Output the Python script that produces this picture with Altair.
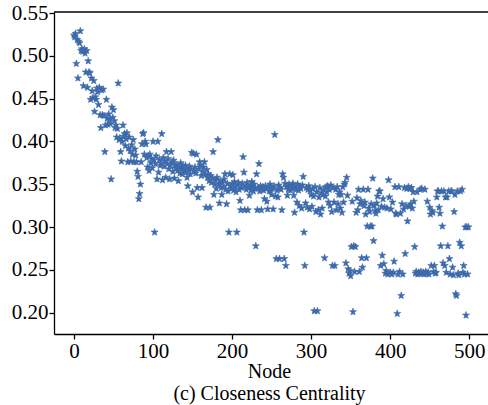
import altair as alt
import pandas as pd

# Closeness centrality per node (nodes 0..499)
vals_000 = [0.524, 0.522, 0.526, 0.491, 0.519, 0.474, 0.517, 0.515, 0.529, 0.506,
            0.508, 0.505, 0.465, 0.508, 0.503, 0.481, 0.506, 0.463, 0.494, 0.481,
            0.480, 0.449, 0.474, 0.459, 0.451, 0.471, 0.435, 0.452, 0.449, 0.462,
            0.458, 0.443, 0.463, 0.431, 0.416, 0.460, 0.431, 0.461, 0.430, 0.388,
            0.419, 0.449, 0.427, 0.420, 0.432, 0.426, 0.421, 0.356, 0.440, 0.428,
            0.437, 0.424, 0.416, 0.419, 0.405, 0.415, 0.468, 0.402, 0.404, 0.388,
            0.377, 0.400, 0.419, 0.406, 0.409, 0.395, 0.403, 0.410, 0.376, 0.392,
            0.405, 0.389, 0.377, 0.396, 0.385, 0.402, 0.376, 0.391, 0.384, 0.376,
            0.365, 0.359, 0.333, 0.339, 0.350, 0.376, 0.397, 0.409, 0.410, 0.385,
            0.400, 0.397, 0.381, 0.370, 0.383, 0.366, 0.385, 0.375, 0.380, 0.369]
vals_100 = [0.400, 0.378, 0.294, 0.374, 0.383, 0.356, 0.400, 0.364, 0.379, 0.372,
            0.375, 0.409, 0.355, 0.381, 0.371, 0.377, 0.358, 0.388, 0.374, 0.380,
            0.368, 0.356, 0.372, 0.388, 0.376, 0.365, 0.378, 0.357, 0.372, 0.369,
            0.373, 0.366, 0.354, 0.370, 0.363, 0.375, 0.368, 0.362, 0.371, 0.366,
            0.369, 0.372, 0.364, 0.358, 0.348, 0.367, 0.371, 0.362, 0.368, 0.387,
            0.341, 0.386, 0.365, 0.370, 0.363, 0.385, 0.346, 0.335, 0.368, 0.376,
            0.372, 0.360, 0.346, 0.365, 0.370, 0.376, 0.361, 0.323, 0.367, 0.358,
            0.362, 0.354, 0.323, 0.360, 0.352, 0.357, 0.388, 0.338, 0.350, 0.355,
            0.345, 0.358, 0.402, 0.350, 0.328, 0.354, 0.346, 0.338, 0.352, 0.347,
            0.356, 0.362, 0.344, 0.327, 0.351, 0.342, 0.294, 0.362, 0.348, 0.345]
vals_200 = [0.350, 0.361, 0.343, 0.353, 0.347, 0.341, 0.294, 0.349, 0.352, 0.344,
            0.331, 0.320, 0.346, 0.351, 0.382, 0.364, 0.320, 0.348, 0.344, 0.352,
            0.320, 0.346, 0.337, 0.349, 0.343, 0.353, 0.347, 0.342, 0.350, 0.345,
            0.278, 0.362, 0.320, 0.346, 0.374, 0.342, 0.348, 0.320, 0.344, 0.347,
            0.343, 0.333, 0.348, 0.345, 0.330, 0.321, 0.347, 0.342, 0.350, 0.344,
            0.338, 0.345, 0.321, 0.348, 0.408, 0.336, 0.263, 0.343, 0.335, 0.349,
            0.263, 0.346, 0.344, 0.320, 0.362, 0.358, 0.263, 0.351, 0.255, 0.347,
            0.337, 0.344, 0.350, 0.346, 0.343, 0.348, 0.345, 0.351, 0.337, 0.317,
            0.347, 0.344, 0.329, 0.350, 0.343, 0.325, 0.347, 0.345, 0.322, 0.349,
            0.359, 0.294, 0.255, 0.328, 0.346, 0.323, 0.344, 0.348, 0.321, 0.343]
vals_300 = [0.338, 0.324, 0.345, 0.336, 0.202, 0.347, 0.318, 0.341, 0.202, 0.320,
            0.335, 0.346, 0.315, 0.340, 0.322, 0.338, 0.344, 0.264, 0.336, 0.347,
            0.341, 0.348, 0.329, 0.344, 0.325, 0.349, 0.318, 0.255, 0.346, 0.329,
            0.255, 0.344, 0.320, 0.347, 0.327, 0.338, 0.341, 0.322, 0.338, 0.317,
            0.347, 0.329, 0.350, 0.352, 0.258, 0.358, 0.337, 0.251, 0.246, 0.249,
            0.243, 0.277, 0.330, 0.201, 0.278, 0.248, 0.277, 0.317, 0.334, 0.320,
            0.344, 0.248, 0.327, 0.331, 0.264, 0.253, 0.344, 0.325, 0.329, 0.315,
            0.264, 0.301, 0.344, 0.322, 0.318, 0.301, 0.327, 0.301, 0.357, 0.284,
            0.325, 0.319, 0.316, 0.328, 0.336, 0.320, 0.342, 0.342, 0.255, 0.324,
            0.267, 0.333, 0.257, 0.323, 0.246, 0.249, 0.322, 0.245, 0.355, 0.335]
vals_400 = [0.247, 0.321, 0.245, 0.329, 0.247, 0.260, 0.347, 0.316, 0.315, 0.199,
            0.245, 0.347, 0.248, 0.316, 0.220, 0.327, 0.245, 0.321, 0.346, 0.269,
            0.325, 0.345, 0.307, 0.347, 0.324, 0.345, 0.327, 0.346, 0.322, 0.341,
            0.330, 0.277, 0.246, 0.248, 0.341, 0.245, 0.247, 0.246, 0.344, 0.248,
            0.345, 0.246, 0.247, 0.245, 0.344, 0.248, 0.246, 0.330, 0.247, 0.245,
            0.323, 0.315, 0.255, 0.319, 0.317, 0.248, 0.255, 0.246, 0.247, 0.335,
            0.342, 0.342, 0.323, 0.316, 0.278, 0.342, 0.301, 0.258, 0.342, 0.255,
            0.335, 0.247, 0.335, 0.278, 0.342, 0.263, 0.245, 0.342, 0.342, 0.253,
            0.244, 0.318, 0.338, 0.222, 0.220, 0.342, 0.246, 0.244, 0.282, 0.342,
            0.278, 0.344, 0.247, 0.255, 0.245, 0.300, 0.197, 0.300, 0.245, 0.300]

x_ticks = [0, 100, 200, 300, 400, 500]
y_ticks = [0.20, 0.25, 0.30, 0.35, 0.40, 0.45, 0.50, 0.55]
x_title = ["Node", "(c) Closeness Centrality"]

values = vals_000 + vals_100 + vals_200 + vals_300 + vals_400
df = pd.DataFrame({"node": list(range(len(values))), "closeness": values})

FONT = "Liberation Serif"
W, H = 434, 322

star = ("M0,-1L0.2245,-0.309L0.951,-0.309L0.363,0.118L0.588,0.809L0,0.5"
        "L-0.588,0.809L-0.363,0.118L-0.951,-0.309L-0.2245,-0.309Z")

points = alt.Chart(df).mark_point(
    shape=star, filled=True, size=55, color="#3d6aab", opacity=1,
    stroke="#3d6aab", strokeWidth=0.6, clip=True
).encode(
    x=alt.X("node:Q",
            scale=alt.Scale(domain=[-25.3, 523.8], nice=False, zero=False),
            axis=alt.Axis(values=x_ticks, title=x_title, format="d",
                          titleX=215, titlePadding=0, titleLineHeight=22,
                          titleFontSize=20)),
    y=alt.Y("closeness:Q",
            scale=alt.Scale(domain=[0.1751, 0.5512], nice=False, zero=False),
            axis=alt.Axis(values=y_ticks, format=".2f", title=None)),
)

top = alt.Chart(alt.Data(values=[{}])).mark_rule(
    color="black", strokeWidth=1.3
).encode(x=alt.value(0), x2=alt.value(W), y=alt.value(0))

chart = alt.layer(points, top).properties(
    width=W, height=H,
    autosize=alt.AutoSizeParams(type="none"),
    padding={"left": 54, "top": 12, "right": 0, "bottom": 71},
    background="white",
).configure_view(stroke=None).configure_axis(
    grid=False,
    domainColor="black", domainWidth=1.3,
    tickColor="black", tickWidth=1.3, tickSize=5,
    labelFont=FONT, labelFontSize=21, labelColor="black", labelPadding=1,
    titleFont=FONT, titleColor="black", titleFontWeight="normal",
)

chart.save("out.html", embed_options={"renderer": "svg", "actions": False})
